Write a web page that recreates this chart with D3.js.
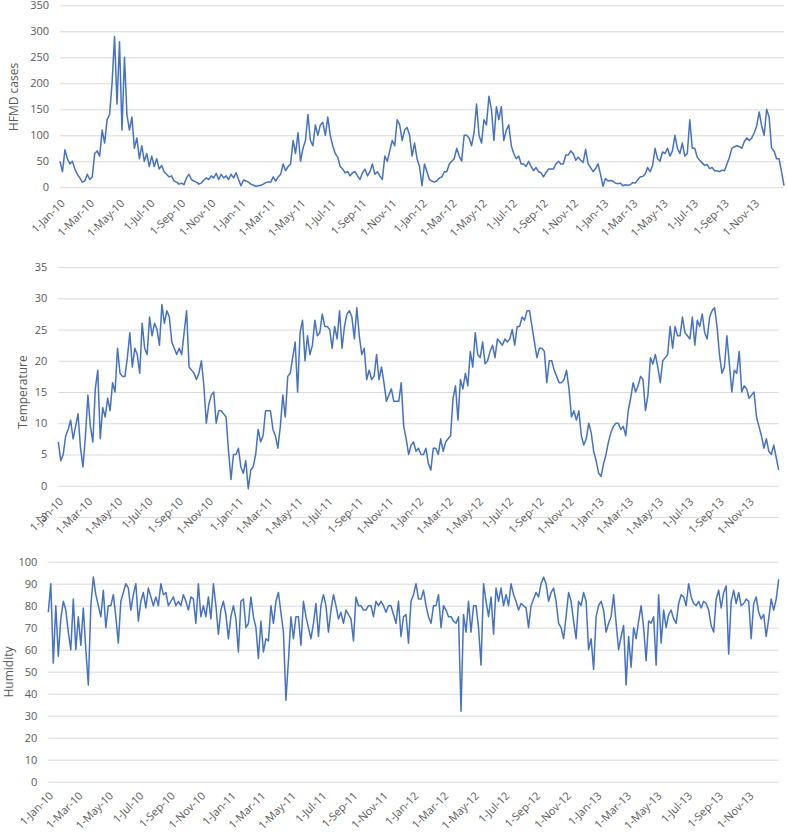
<!DOCTYPE html>
<html><head><meta charset="utf-8">
<script src="https://cdn.jsdelivr.net/npm/d3@7"></script>
<style>
body{margin:0;background:#fff}
text{font-family:"Open Sans",sans-serif;fill:#595959}
</style>
</head><body>
<svg id="chart" width="787" height="832"></svg>
<script>
// Series sampled every 5 days starting 1-Jan-2010
const startDate = new Date(2010, 0, 1);
const endDate = new Date(2013, 11, 31);
const stepDays = 5;

const hfmdCases = [
50,30,72,55,45,50,35,25,18,10,
12,25,15,20,65,70,60,110,85,130,
140,200,290,160,280,110,250,140,110,135,
75,95,55,80,50,65,40,60,40,55,
35,42,30,25,20,22,12,10,6,8,
5,18,25,15,12,10,6,8,14,18,
15,22,18,27,15,25,18,22,15,25,
18,28,15,3,14,12,10,6,4,2,
3,4,6,9,10,10,20,12,20,25,
45,32,40,45,90,65,105,50,75,90,
140,90,80,120,100,120,125,100,135,100,
80,65,58,40,35,28,30,22,28,30,
22,15,28,35,22,30,45,25,30,22,
15,60,50,70,90,80,130,120,90,110,
115,100,60,85,55,40,3,45,30,15,
12,10,12,18,20,30,30,45,50,55,
75,60,50,100,100,95,80,105,160,100,
85,130,120,175,150,90,155,130,155,90,
110,120,80,65,55,60,45,45,40,50,
40,32,38,30,28,20,28,35,35,35,
45,50,45,45,62,62,70,65,52,58,
52,48,73,45,38,30,36,45,25,2,
17,12,13,12,8,7,8,3,5,4,
5,9,8,14,20,21,25,38,30,42,
75,55,50,68,65,75,60,70,100,75,
65,85,60,65,130,75,75,58,52,47,
42,44,36,38,32,32,30,33,32,45,
58,75,78,80,78,75,88,95,90,95,
105,118,145,118,100,150,135,75,70,55,
55,30,3
];

const temperature = [
7,4,5,8,9,10.5,7.5,9.5,11.5,6,
3,8,14.5,9.5,7,15.5,18.5,7.5,12.5,11,
14,12,16.5,15,22,18,17.5,17.5,20.5,24.5,
19,22,21,18,26,22,21,27,24,26,
25,22.5,29,26,28,27,23,22,21,22,
21,24.5,28,19,18.5,18,17,18,20,16,
10,13,14.5,15,10,12,12,11.5,11,5.5,
1,5,5,6,3,2,4,-0.5,2.5,3,
5,9,7,8,12,12,12,9,8,6,
9.5,14.5,11,17.5,18,20.5,23,15,24.5,26.5,
20,24,21,22.5,26.5,24,24.5,27.5,25.5,25.5,
25,22,25.5,23.5,28,22,25.5,27.5,28,27,
23.5,28.5,24,21,22,17,18.5,17,17.5,21,
17,19,16.5,13.5,14.5,15.5,13.5,13.5,13.5,16.5,
9.5,7.5,5,6.5,7,5.5,6,5,5,6,
3.5,2.5,6,6,5,7.5,5.5,7,7.5,8,
14,16,10.5,17,15.5,18,16,21.5,19,24.5,
21,20.5,23,19.5,20,21.5,22.5,20.5,23.5,23,
22.5,23.5,23,23.5,25,22.5,25.5,25.5,27,26.5,
28,28,25.5,23,20.5,22,22,21.5,16.5,20,
20,18.5,17.5,16.5,16.5,17,18.5,15.5,11,12,
10.5,12,8,6.5,7.5,10,8.5,5.5,4,2,
1.5,3.5,5,7,8.5,9.5,10,10,9,9.5,
8,12,14,16.5,15,16,17.5,17,12,14.5,
20.5,19.5,21,19,16.5,20,20.5,21,25.5,22,
25.5,24,24,27,24.5,24,23.5,27,22.5,26.5,
25.5,27.5,24.5,23.5,27,28,28.5,25.5,21,18,
19,24,19.5,15,18.5,18,21.5,15,16,15.5,
14,14.5,15,11,9.5,8,6,7.5,5.5,5,
6.5,4.5,2.5
];

const humidity = [
77,90,54,80,57,74,82,78,68,60,
83,60,75,62,79,60,44,80,93,85,
80,75,87,70,80,80,85,75,63,82,
86,90,88,78,85,90,73,82,86,79,
88,84,80,84,80,90,85,86,80,82,
84,80,82,80,85,82,78,84,83,72,
90,75,80,75,84,74,90,80,67,78,
82,76,65,75,80,74,59,82,83,70,
72,84,75,70,56,73,59,65,64,80,
72,82,86,77,68,37,55,75,65,75,
75,62,82,75,70,65,72,81,66,80,
85,80,68,78,85,80,74,77,72,78,
76,74,64,84,80,80,78,78,80,80,
75,82,80,82,80,77,80,80,76,72,
82,66,75,76,63,82,85,90,83,83,
87,80,75,72,80,80,85,70,80,78,
75,75,73,72,75,32,76,68,82,68,
80,80,70,53,90,82,75,84,67,88,
82,88,80,85,80,90,85,82,78,81,
80,79,70,80,83,86,84,90,93,90,
82,86,88,82,72,70,65,75,86,82,
73,65,82,80,86,82,60,65,51,75,
80,82,78,68,72,75,85,72,60,66,
71,44,66,52,70,65,73,80,70,55,
73,72,75,53,85,63,78,70,76,78,
74,72,81,85,84,80,90,84,81,80,
82,79,82,81,78,71,68,83,87,79,
86,89,58,82,87,81,86,80,81,83,
82,65,81,84,77,74,76,66,74,83,
78,83,92
];

const panelTitles = ["HFMD cases", "Temperature", "Humidity"];
const yMin = [0, -5, 0];
const yMax = [350, 35, 100];
const yStep = [50, 5, 10];

const svg = d3.select("#chart");
const fmt = d3.timeFormat("%-d-%b-%y");
const tickDates = d3.timeMonth.every(2).range(startDate, endDate);

const panels = [
  {values: hfmdCases, x0: 60, x1: 784, yTop: 5.3, yBot: 187.3, titleX: 14, titleY: 97, labOff: 14},
  {values: temperature, x0: 58.3, x1: 778.7, yTop: 267.1, yBot: 516.9, titleX: 23, titleY: 392, labOff: 14},
  {values: humidity, x0: 48.3, x1: 778.7, yTop: 561.7, yBot: 781.7, titleX: 9, titleY: 672, labOff: 12}
];

panels.forEach((p, i) => {
  const x = d3.scaleTime().domain([startDate, endDate]).range([p.x0, p.x1]);
  const y = d3.scaleLinear().domain([yMin[i], yMax[i]]).range([p.yBot, p.yTop]);
  const ticks = d3.range(yMin[i], yMax[i] + yStep[i] / 2, yStep[i]);

  const ya = svg.append("g").attr("transform", `translate(${p.x0},0)`)
    .call(d3.axisLeft(y).tickValues(ticks).tickSize(-(p.x1 - p.x0)).tickPadding(11).tickFormat(d3.format("d")));
  ya.select(".domain").remove();
  ya.selectAll("line").attr("stroke", "#d9d9d9").attr("stroke-width", 1);
  ya.selectAll("text").style("font-size", "11px").style("font-family", '"Open Sans",sans-serif').attr("fill", "#595959");

  svg.append("text")
    .attr("transform", `translate(${p.titleX},${p.titleY}) rotate(-90)`)
    .attr("text-anchor", "middle").attr("dy", "0.35em")
    .style("font-size", "12px").text(panelTitles[i]);

  // category labels sit next to the zero line
  const y0 = y(0);
  svg.append("g").selectAll("text").data(tickDates).join("text")
    .attr("transform", d => `translate(${x(d) + 3},${y0 + p.labOff}) rotate(-45)`)
    .attr("text-anchor", "end").attr("dy", "0.35em")
    .style("font-size", "11px").text(d => fmt(d));

  const line = d3.line()
    .x((d, j) => x(d3.timeDay.offset(startDate, j * stepDays)))
    .y(d => y(d));
  svg.append("path").datum(p.values)
    .attr("fill", "none").attr("stroke", "#4472C4").attr("stroke-width", 1.5)
    .attr("stroke-linejoin", "round").attr("d", line);
});
</script>
</body></html>
